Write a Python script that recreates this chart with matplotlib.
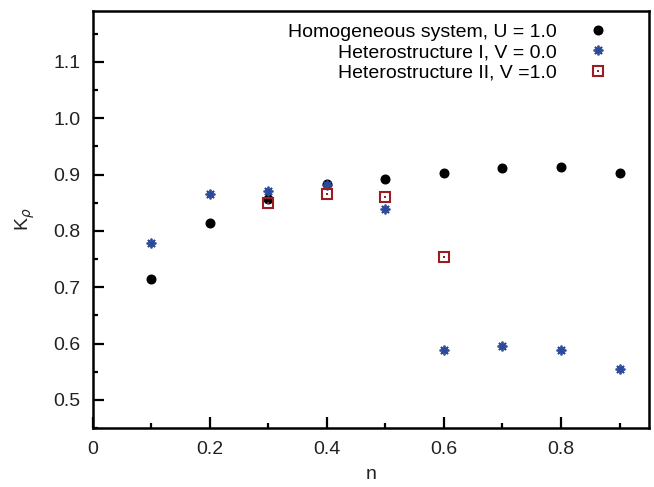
import matplotlib
matplotlib.use("Agg")
from matplotlib import pyplot as plt
from matplotlib.ticker import MultipleLocator
import numpy as np

plt.rcParams['font.family'] = ['Liberation Sans', 'DejaVu Sans']

# data
n_all = [0.1, 0.2, 0.3, 0.4, 0.5, 0.6, 0.7, 0.8, 0.9]
k_homog = [0.715, 0.814, 0.857, 0.884, 0.892, 0.903, 0.912, 0.913, 0.902]
k_het1 = [0.779, 0.865, 0.870, 0.882, 0.839, 0.589, 0.595, 0.589, 0.554]
n_het2 = [0.3, 0.4, 0.5, 0.6]
k_het2 = [0.850, 0.865, 0.860, 0.753]

labels = ["Homogeneous system, U = 1.0",
          "Heterostructure I, V = 0.0",
          "Heterostructure II, V =1.0"]

blue = "#2b4a9c"
red = "#9b1c22"
fs = 14

fig = plt.figure(figsize=(6.54, 4.87), dpi=100)
ax = fig.add_axes([0.142, 0.121, 0.850, 0.856])

ax.plot(n_all, k_homog, "o", color="k", markersize=6.2, label=labels[0])
ax.plot(n_all, k_het1, linestyle="none", marker=(8, 2, 0), color=blue,
        markersize=7, markeredgewidth=1.3, label=labels[1])
sq, = ax.plot(n_het2, k_het2, "s", markerfacecolor="none", markeredgecolor=red,
              markersize=7, markeredgewidth=1.5)
dot, = ax.plot(n_het2, k_het2, "s", color=red, markersize=1.5, markeredgewidth=0)

h, l = ax.get_legend_handles_labels()
ax.legend(h + [(sq, dot)], l + [labels[2]], loc="upper right", frameon=False,
          markerfirst=False, fontsize=fs, handlelength=1.0, handletextpad=1.6,
          labelspacing=0.15, borderaxespad=0.0, bbox_to_anchor=(0.940, 0.99))

ax.set_xlim(0, 0.95)
ax.set_ylim(0.45, 1.19)
ax.xaxis.set_minor_locator(MultipleLocator(0.1))
ax.yaxis.set_minor_locator(MultipleLocator(0.05))
ax.set_xticks([0, 0.2, 0.4, 0.6, 0.8])
ax.set_xticklabels(["0", "0.2", "0.4", "0.6", "0.8"])
ax.set_yticks([0.5, 0.6, 0.7, 0.8, 0.9, 1.0, 1.1])
ax.set_yticklabels(["0.5", "0.6", "0.7", "0.8", "0.9", "1.0", "1.1"])

ax.tick_params(which="both", direction="in", labelsize=fs, width=1.6,
               labelcolor="#222222")
ax.tick_params(which="major", length=8, pad=9)
ax.tick_params(which="minor", length=3.5)
for s in ax.spines.values():
    s.set_linewidth(1.8)

ax.set_xlabel("n", fontsize=fs, labelpad=6, color="#222222")
ax.set_ylabel(r"K$_\rho$", fontsize=fs, labelpad=12, color="#222222")

fig.savefig("out.png", dpi=100)
